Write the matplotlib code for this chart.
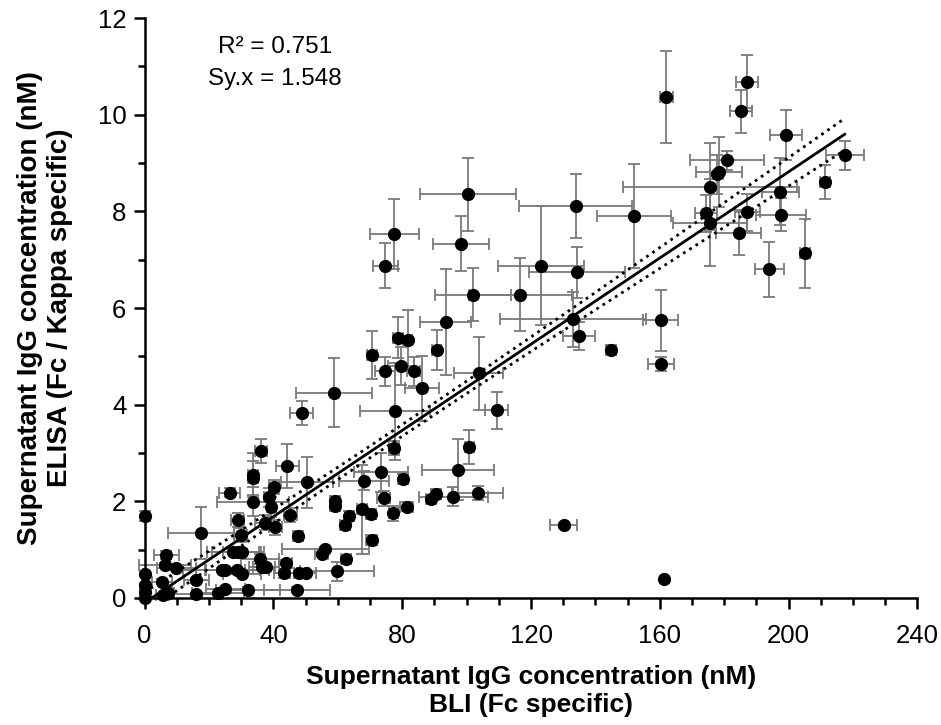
import matplotlib
matplotlib.use("Agg")
import matplotlib.pyplot as plt
from matplotlib.ticker import MultipleLocator
import numpy as np

plt.rcParams['font.family'] = ['Liberation Sans', 'DejaVu Sans']

# BLI (x), ELISA (y), with SD error bars
bli = [162.0, 187.0, 185.2, 199.1, 217.4, 211.2, 180.8, 178.3, 177.7, 175.6,
       174.3, 175.6, 187.2, 184.5, 197.4, 197.7, 194.0, 205.1, 160.3, 100.4,
       133.9, 152.0, 77.6, 74.8, 98.3, 123.1, 134.4, 102.0, 116.6, 93.5,
       133.0, 134.9, 144.9, 160.4, 90.7, 78.8, 81.7, 74.7, 79.6, 83.6,
       86.2, 103.7, 109.4, 77.8, 77.5, 100.9, 70.6, 58.9, 48.8, 97.4,
       89.0, 90.5, 95.9, 103.4, 130.2, 161.4,
       0.0, 17.6, 26.4, 29.0, 29.8, 36.1, 33.7, 33.7, 33.7, 44.3,
       40.2, 38.6, 39.4, 37.3, 40.6, 50.4, 45.2, 47.5, 59.2, 59.2,
       63.6, 62.3, 68.2, 67.5, 73.4, 70.3, 74.2, 77.3, 80.4, 81.4, 70.5,
       6.8, 6.3, 9.9, 0.0, 0.0, 0.0, 0.0, 5.4, 5.7, 7.3,
       16.1, 16.1, 27.5, 29.0, 30.3, 23.9, 25.1, 28.8, 30.3, 22.8,
       25.1, 32.1, 35.8, 36.5, 37.8, 56.1, 55.0, 62.6, 43.9, 43.3,
       48.1, 50.2, 59.7, 47.3]
elisa = [10.37, 10.68, 10.07, 9.58, 9.16, 8.61, 9.06, 8.82, 8.77, 8.51,
         7.96, 7.77, 7.98, 7.56, 8.41, 7.93, 6.80, 7.13, 5.75, 8.35,
         8.11, 7.90, 7.53, 6.88, 7.33, 6.88, 6.74, 6.28, 6.28, 5.71,
         5.77, 5.43, 5.13, 4.84, 5.13, 5.39, 5.33, 4.69, 4.80, 4.69,
         4.34, 4.65, 3.88, 3.86, 3.10, 3.13, 5.03, 4.25, 3.83, 2.65,
         2.04, 2.15, 2.10, 2.17, 1.50, 0.39,
         1.70, 1.35, 2.18, 1.61, 1.30, 3.04, 2.55, 2.48, 1.99, 2.73,
         2.30, 2.08, 1.88, 1.56, 1.46, 2.39, 1.72, 1.28, 2.01, 1.90,
         1.70, 1.50, 2.43, 1.84, 2.60, 1.74, 2.06, 1.75, 2.46, 1.89, 1.20,
         0.89, 0.68, 0.63, 0.50, 0.27, 0.13, 0.00, 0.34, 0.06, 0.10,
         0.37, 0.08, 0.96, 0.96, 0.96, 0.58, 0.57, 0.57, 0.50, 0.10,
         0.18, 0.17, 0.80, 0.65, 0.65, 1.01, 0.91, 0.80, 0.73, 0.51,
         0.51, 0.51, 0.55, 0.17]
bli_sd = [2.0, 3.4, 3.3, 4.9, 5.9, 1.5, 11.4, 7.2, 2.0, 27.0,
          3.5, 11.4, 3.9, 7.0, 5.7, 7.8, 4.5, 1.5, 5.4, 15.0,
          17.5, 11.4, 7.5, 4.0, 8.6, 13.3, 14.9, 11.9, 16.0, 8.0,
          22.6, 5.0, 1.5, 4.0, 1.5, 1.5, 1.5, 3.0, 4.0, 2.0,
          5.2, 7.5, 3.6, 10.9, 1.5, 1.5, 1.5, 11.8, 3.6, 11.2,
          1.5, 1.5, 10.6, 8.0, 4.2, 0.0,
          0.5, 10.2, 3.3, 2.0, 2.0, 1.8, 1.5, 1.5, 11.2, 3.6,
          1.5, 1.5, 1.5, 3.0, 2.0, 8.0, 2.0, 1.5, 1.5, 1.5,
          1.5, 1.5, 7.8, 1.5, 8.5, 1.5, 2.0, 1.5, 1.5, 2.0, 1.8,
          4.0, 8.0, 6.0, 0.5, 0.5, 0.5, 0.5, 3.0, 2.0, 2.0,
          4.0, 8.0, 8.0, 8.0, 6.0, 12.0, 6.0, 10.0, 6.0, 8.0,
          6.0, 10.0, 6.0, 4.0, 4.0, 13.5, 2.0, 1.5, 2.0, 3.0,
          3.0, 3.0, 11.4, 10.3]
elisa_sd = [0.95, 0.55, 0.45, 0.52, 0.30, 0.35, 0.20, 0.72, 0.40, 0.90,
            0.38, 0.90, 0.39, 0.47, 0.69, 0.34, 0.57, 0.71, 0.63, 0.76,
            0.66, 1.08, 0.72, 0.47, 0.57, 1.24, 0.53, 0.54, 0.75, 1.09,
            0.57, 0.29, 0.10, 0.15, 0.41, 0.43, 0.62, 0.30, 0.40, 0.30,
            0.67, 0.75, 0.38, 1.00, 0.15, 0.35, 0.50, 0.72, 0.24, 0.63,
            0.10, 0.10, 0.20, 0.15, 0.05, 0.0,
            0.10, 0.54, 0.10, 0.15, 0.15, 0.24, 0.45, 0.35, 0.30, 0.46,
            0.15, 0.20, 0.20, 0.15, 0.15, 0.53, 0.15, 0.10, 0.10, 0.10,
            0.10, 0.10, 0.20, 0.92, 0.40, 0.10, 0.15, 0.15, 0.10, 0.10, 0.10,
            0.08, 0.05, 0.05, 0.05, 0.05, 0.05, 0.05, 0.05, 0.03, 0.03,
            0.05, 0.03, 0.05, 0.05, 0.05, 0.05, 0.05, 0.05, 0.05, 0.03,
            0.03, 0.05, 0.10, 0.05, 0.05, 0.05, 0.05, 0.05, 0.05, 0.10,
            0.05, 0.05, 0.20, 0.05]

# linear fit
slope = 0.0446
intercept = -0.10
band_min = 0.12      # half-width of 95% band at its narrowest
band_center = 80.0
band_spread = 0.00223
r2_text = "R² = 0.751"
syx_text = "Sy.x = 1.548"

fig = plt.figure(figsize=(9.41, 7.25), dpi=100)
ax = fig.add_axes([0.1536, 0.1752, 0.8214, 0.7998])

ax.errorbar(bli, elisa, xerr=bli_sd, yerr=elisa_sd, fmt='none',
            ecolor='#7a7a7a', elinewidth=1.3, capsize=4, capthick=1.3,
            zorder=2, clip_on=False)
ax.plot(bli, elisa, 'o', color='black', markersize=8.5, zorder=3,
        clip_on=False)

xs = np.linspace(0, max(bli), 300)
fit = slope * xs + intercept
half = np.sqrt(band_min**2 + band_spread**2 * (xs - band_center)**2)
ax.plot(xs, fit, '-', color='black', lw=2, zorder=4)
ax.plot(xs, fit + half, ':', color='black', lw=2, zorder=4)
ax.plot(xs, fit - half, ':', color='black', lw=2, zorder=4)

ax.set_xlim(0, 240)
ax.set_ylim(0, 12)
ax.xaxis.set_major_locator(MultipleLocator(40))
ax.xaxis.set_minor_locator(MultipleLocator(10))
ax.yaxis.set_major_locator(MultipleLocator(2))
ax.yaxis.set_minor_locator(MultipleLocator(1))

for s in ['top', 'right']:
    ax.spines[s].set_visible(False)
for s in ['left', 'bottom']:
    ax.spines[s].set_linewidth(1.8)
ax.tick_params(which='major', length=8, width=1.8, labelsize=18.5, pad=5)
ax.tick_params(which='minor', length=5, width=1.8)
ax.tick_params(axis='x', which='major', pad=11)

ax.set_xlabel("Supernatant IgG concentration (nM)\nBLI (Fc specific)",
              fontsize=19, fontweight='bold', labelpad=12, linespacing=1.2)
ax.set_ylabel("Supernatant IgG concentration (nM)\nELISA (Fc / Kappa specific)",
              fontsize=20, fontweight='bold', labelpad=18, linespacing=1.2)

ax.text(40.5, 11.41, r2_text, fontsize=17.5, ha='center', va='center')
ax.text(40.5, 10.73, syx_text, fontsize=17.5, ha='center', va='center')

fig.savefig("out.png", dpi=100)
